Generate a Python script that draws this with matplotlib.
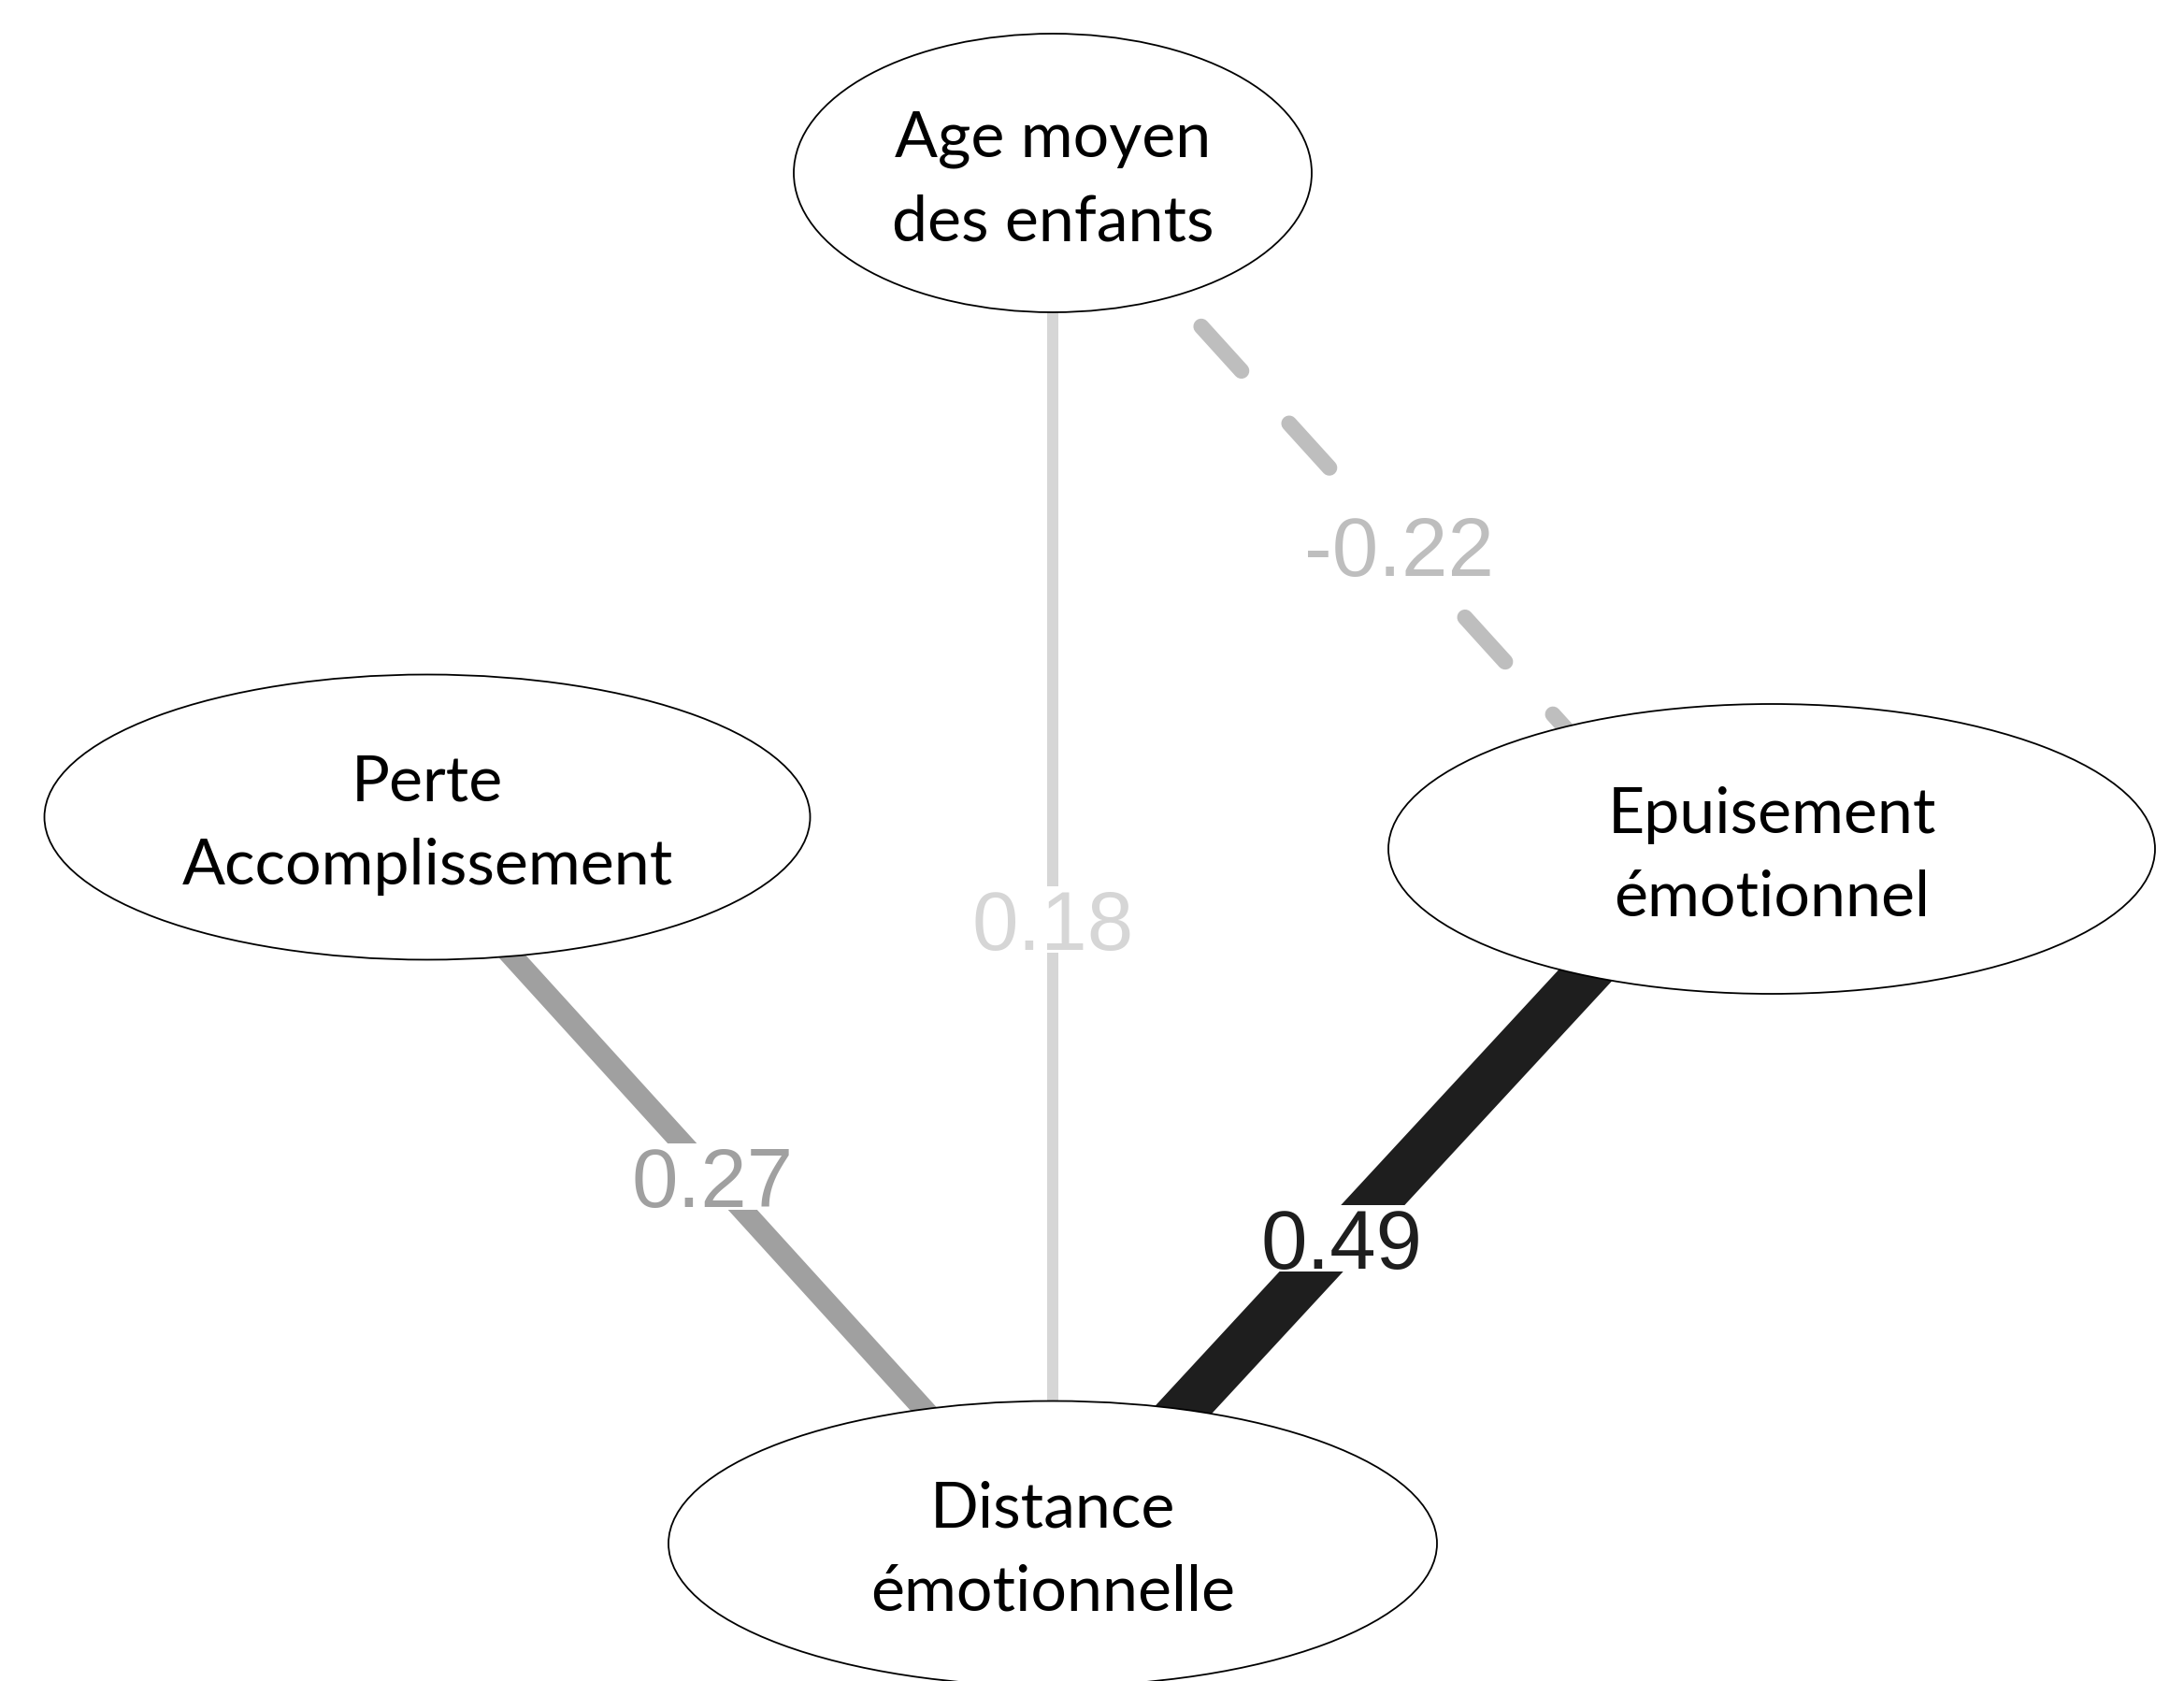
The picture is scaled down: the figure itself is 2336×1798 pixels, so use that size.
import matplotlib
matplotlib.use("Agg")
import matplotlib.pyplot as plt
from matplotlib.patches import Ellipse, Rectangle

plt.rcParams['lines.scale_dashes'] = False

# nodes of the network
node_names = ["Age", "Perte", "Epuisement", "Distance"]
node_labels = ["Age moyen\ndes enfants", "Perte\nAccomplissement",
               "Epuisement\némotionnel", "Distance\némotionnelle"]

# edges: from, to, partial correlation
edge_from = ["Age", "Age", "Distance", "Epuisement"]
edge_to = ["Distance", "Epuisement", "Perte", "Distance"]
edge_weight = [0.18, -0.22, 0.27, 0.49]

# layout (pixels)
W, H = 2336, 1799
anchor = {"Age": (1126, 175), "Perte": (458, 925),
          "Epuisement": (1806, 925), "Distance": (1126, 1660)}
ell_xy = {"Age": (1126, 186), "Perte": (457, 875),
          "Epuisement": (1895, 909), "Distance": (1126, 1652)}
ell_wh = {"Age": (554, 298), "Perte": (819, 305),
          "Epuisement": (820, 310), "Distance": (822, 305)}

PX = 72 / 100  # pixels -> points
label_pos = 0.545
label_size = 64
cap_h = 0.716 * label_size / PX
pad = 4

fig = plt.figure(figsize=(W / 100, H / 100), dpi=100)
ax = fig.add_axes([0, 0, 1, 1])
ax.set_xlim(0, W)
ax.set_ylim(H, 0)
ax.axis('off')
renderer = fig.canvas.get_renderer()

for a, b, w in zip(edge_from, edge_to, edge_weight):
    x0, y0 = anchor[a]
    x1, y1 = anchor[b]
    g = (320 - 591 * abs(w)) / 255
    col = (g, g, g)
    lw = (122.7 * abs(w) - 10.1) * PX
    if w < 0:
        ax.plot([x0, x1], [y0, y1], color=col, lw=lw,
                linestyle=(43.5 * PX, (64 * PX, 76 * PX)),
                dash_capstyle='round', zorder=1)
    else:
        ax.plot([x0, x1], [y0, y1], color=col, lw=lw,
                solid_capstyle='butt', zorder=1)

    lx = x0 + label_pos * (x1 - x0)
    ly = y0 + label_pos * (y1 - y0)
    t = ax.text(lx, ly + cap_h / 2, f"{w:.2f}", ha='center', va='baseline',
                fontsize=label_size, color=col, zorder=4,
                family=['Liberation Sans Narrow', 'Liberation Sans'])
    bb = t.get_window_extent(renderer=renderer)
    ax.add_patch(Rectangle((bb.x0, ly - cap_h / 2 - pad), bb.width,
                           cap_h + 2 * pad, facecolor='white',
                           edgecolor='none', zorder=3))

for name, lab in zip(node_names, node_labels):
    cx, cy = ell_xy[name]
    ew, eh = ell_wh[name]
    ax.add_patch(Ellipse((cx, cy), ew, eh, facecolor='white',
                         edgecolor='black', lw=1.3, zorder=5))
    for i, line in enumerate(lab.split("\n")):
        ax.text(cx, cy - 18 + 89 * i, line, ha='center', va='baseline',
                fontsize=49, family=['Lato', 'DejaVu Sans'], zorder=6)

fig.savefig("out.png", dpi=100)
